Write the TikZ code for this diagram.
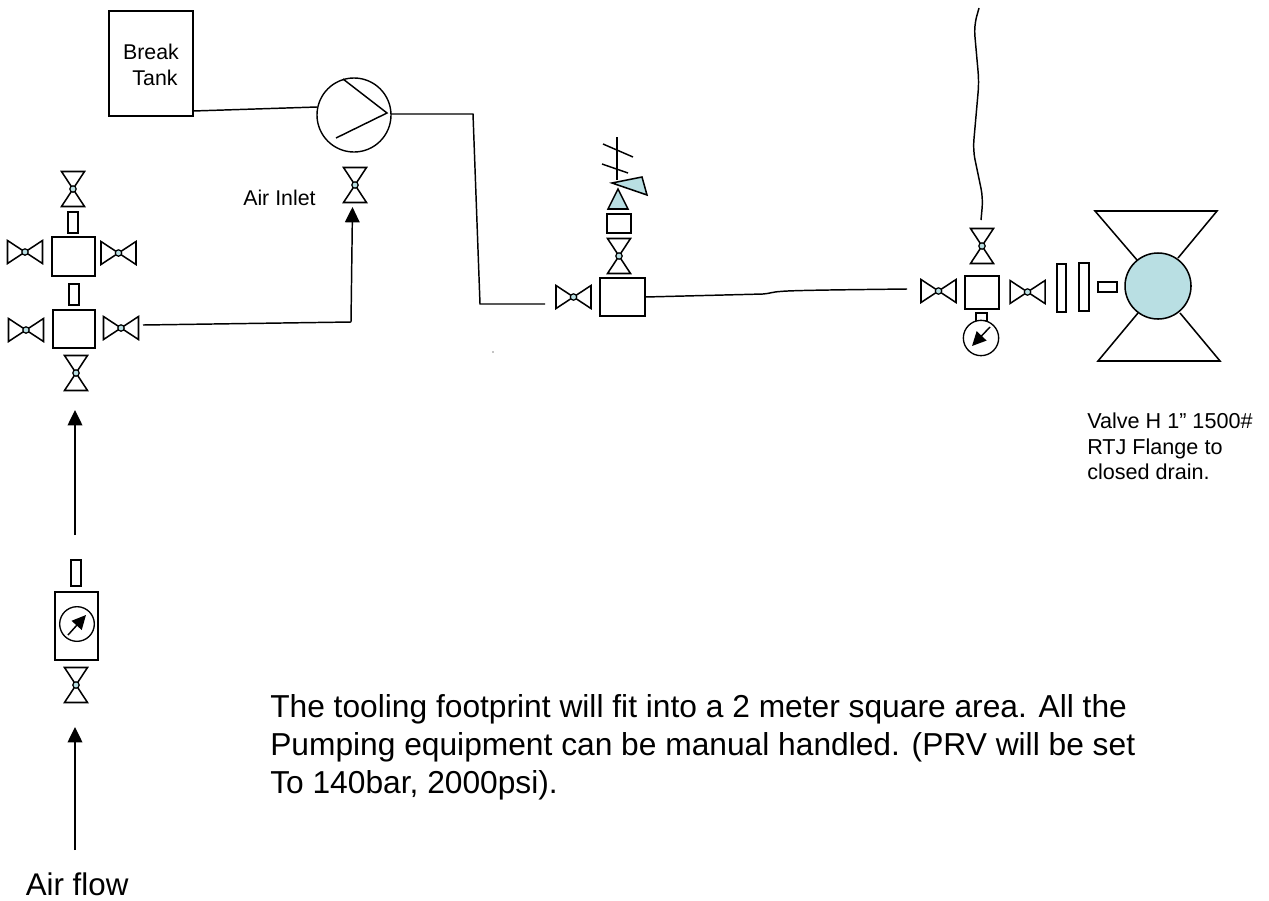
\documentclass[tikz,border=0pt]{standalone}
\usepackage{fontspec}
\setmainfont{Liberation Sans}
\usetikzlibrary{arrows.meta}
\definecolor{vblue}{HTML}{B9DFE3}
\tikzset{
  px/.style={x=0.75pt,y=-0.75pt},
  ln/.style={draw=black,line width=1.15pt,line join=miter},
  conn/.style={draw=black,line width=1.1pt},
  eq/.style={draw=black,line width=1.15pt,fill=white,inner sep=0pt,outer sep=0pt,rectangle},
  flow/.style={draw=black,line width=1.1pt,-{Triangle[length=11.5pt,width=11pt]}},
  gaugearrow/.style={draw=black,line width=1.1pt,-{Triangle[length=10.5pt,width=10pt]}},
  small/.style={font=\fontsize{16.2}{19.2}\selectfont,inner sep=0pt,align=left,anchor=north west},
  big/.style={font=\fontsize{23.8}{28.5}\selectfont,inner sep=0pt,align=left,anchor=north west},
}
% horizontal valve: centre x,y
\newcommand{\hvalve}[3]{%
  \coordinate (#1) at (#2,#3);
  \draw[ln] (#2-17.5,#3-11.5) -- (#2+17.5,#3+11.5) -- (#2+17.5,#3-11.5) -- (#2-17.5,#3+11.5) -- cycle;
  \draw[ln,line width=.9pt,fill=vblue] (#2,#3) circle (3.2);}
\newcommand{\vvalve}[3]{%
  \coordinate (#1) at (#2,#3);
  \draw[ln] (#2-11.5,#3-17.5) -- (#2+11.5,#3+17.5) -- (#2-11.5,#3+17.5) -- (#2+11.5,#3-17.5) -- cycle;
  \draw[ln,line width=.9pt,fill=vblue] (#2,#3) circle (3.2);}
% box: name, x1,y1,x2,y2
\newcommand{\eqbox}[5]{%
  \node[eq,minimum width={(#4-#2)*0.75pt},minimum height={(#5-#3)*0.75pt}] (#1) at ({(#2+#4)/2},{(#3+#5)/2}) {};}
\begin{document}
\begin{tikzpicture}[px]
\useasboundingbox (0,0) rectangle (1269,900);
\fill[white] (0,0) rectangle (1269,900);

% Break tank and pump
\eqbox{tank}{109}{11}{193}{116}
\node[font=\fontsize{16}{21}\selectfont,inner sep=0pt] (tanklabel1) at (151,52) {Break};
\node[font=\fontsize{16}{21}\selectfont,inner sep=0pt] (tanklabel2) at (155,78) {Tank};
\node[draw=black,line width=1.05pt,circle,minimum size=55.5pt,inner sep=0pt,outer sep=0pt] (pump) at (354,115) {};
\draw[ln,line width=1.1pt] (343,79) -- (387,113) -- (336,138);
\vvalve{vair}{355}{185}
\node[font=\fontsize{16}{21}\selectfont,inner sep=0pt,anchor=west] (airinlet) at (243,198) {Air Inlet};

% Left manifold
\vvalve{v1}{73}{189}
\eqbox{r1}{68}{212}{78}{233}
\eqbox{s1}{52}{237}{95}{276}
\hvalve{v2}{25}{252}
\hvalve{v3}{118.5}{253}
\eqbox{r2}{69}{284}{79}{305}
\eqbox{s2}{53}{310}{95}{348}
\hvalve{v4}{26}{330}
\hvalve{v5}{121}{328}
\vvalve{v6}{76}{373}

% Air flow leg
\eqbox{r3}{71}{560}{81}{586}
\eqbox{g1}{55}{592}{98}{660}
\node[draw=black,line width=1pt,circle,minimum size=26pt,inner sep=0pt,outer sep=0pt] (gauge1) at (77,624) {};
\coordinate (g1a) at (68,635); \coordinate (g1b) at (86,615);
\draw[gaugearrow] (g1a) -- (g1b);
\vvalve{v7}{76}{685}

% Mid manifold
\eqbox{s3}{600}{278}{645}{316}
\hvalve{v8}{573.5}{297}
\vvalve{v9}{619}{256}
\eqbox{r4}{607}{214}{631}{233}
\draw[ln,fill=vblue] (618,189) -- (628,209) -- (608,209) -- cycle;
\draw[ln,fill=vblue] (612,183) -- (642,177) -- (647,195) -- cycle;
\coordinate (prvtop) at (617,137); \coordinate (prvbot) at (617,180);
\draw[conn] (prvtop) -- (prvbot);
\draw[conn] (603,144) -- (633,157);
\draw[conn] (602,164) -- (628,173);

% Right manifold
\vvalve{v10}{982}{246}
\eqbox{s4}{965}{276}{999}{309}
\hvalve{v11}{938.5}{291}
\hvalve{v12}{1027.5}{292}
\eqbox{r5}{1057}{264}{1066}{312}
\eqbox{r6}{1079}{263}{1089}{311}
\eqbox{r7}{1098}{282}{1117}{292}
\eqbox{r8}{976}{313}{987}{321}
\node[draw=black,line width=1pt,circle,minimum size=26.5pt,inner sep=0pt,outer sep=0pt,fill=white] (gauge2) at (981,338) {};
\coordinate (g2a) at (990,327); \coordinate (g2b) at (972,346);
\draw[gaugearrow] (g2a) -- (g2b);

% Drain valve
\draw[ln] (1137,260) -- (1095,211) -- (1217,211) -- (1178,258);
\draw[ln] (1138,313) -- (1098,361) -- (1220,361) -- (1180,313);
\node[draw=black,line width=1.15pt,circle,minimum size=49.5pt,inner sep=0pt,outer sep=0pt,fill=vblue] (drain) at (1158,286) {};

% Connectors
\draw[conn] (tank.east |- 0,111) -- (pump.west |- 0,107);
\coordinate (p1) at (473,114); \coordinate (p2) at (480,304); \coordinate (p3) at (545,304);
\draw[conn] (pump.east |- 0,114) -- (p1) -- (p2) -- (p3);
\coordinate (m1) at (907,289);
\draw[conn] (s3.east |- 0,297) -- (763,294) .. controls (770,293.5) and (772,292) .. (780,291.5) .. controls (790,290.5) and (820,290) .. (m1);
\coordinate (a1) at (143,325); \coordinate (a2) at (351,322); \coordinate (a3) at (352.5,207);
\draw[conn] (a1) -- (a2);
\draw[flow] (a2) -- (a3);
\coordinate (f1) at (75,535); \coordinate (f2) at (75,410);
\draw[flow] (f1) -- (f2);
\coordinate (f3) at (75,850); \coordinate (f4) at (75,727);
\draw[flow] (f3) -- (f4);
\coordinate (t1) at (979,8); \coordinate (t2) at (981,220);
\draw[conn,rounded corners=7pt] (t1) -- (974,26) -- (979,82) -- (973,150) -- (983,198) -- (t2);

\fill[black] (493,352) circle (.6);

% Text
\node[font=\fontsize{23.5}{28}\selectfont,inner sep=0pt,anchor=base west] (airflow) at (25.5,895) {Air flow};
\node[small] (valvetext) at (1087,412.5) {Valve H 1” 1500\#\\RTJ Flange to\\closed drain.};
\node[big] (note) at (270,694) {The tooling footprint will fit into a 2 meter square area. All the\\Pumping equipment can be manual handled. (PRV will be set\\To 140bar, 2000psi).};
\end{tikzpicture}
\end{document}
